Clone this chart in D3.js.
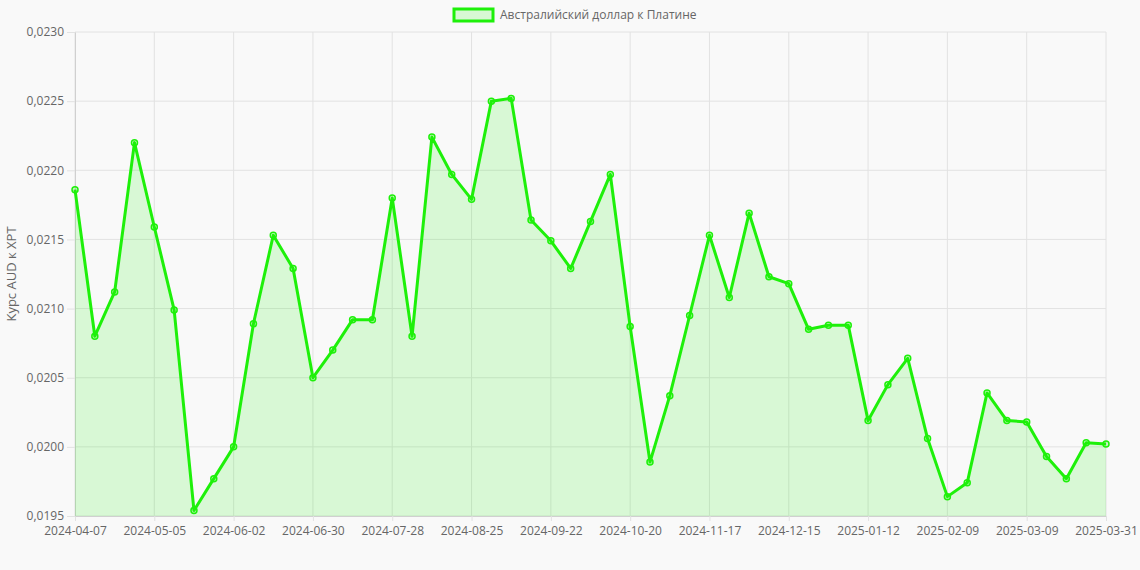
<!DOCTYPE html>
<html>
<head>
<meta charset="utf-8">
<script src="https://cdn.jsdelivr.net/npm/d3@7"></script>
<style>
  body { margin: 0; background: #f9f9f9; font-family: "Open Sans", "DejaVu Sans", sans-serif; }
</style>
</head>
<body>
<script>
var width = 1140, height = 570;
var margin = { left: 75, right: 34, top: 32, bottom: 54 };

var values = [0.02186, 0.02080, 0.02112, 0.02220, 0.02159, 0.02099, 0.01954, 0.01977, 0.02000, 0.02089,
  0.02153, 0.02129, 0.02050, 0.02070, 0.02092, 0.02092, 0.02180, 0.02080, 0.02224, 0.02197,
  0.02179, 0.02250, 0.02252, 0.02164, 0.02149, 0.02129, 0.02163, 0.02197, 0.02087, 0.01989,
  0.02037, 0.02095, 0.02153, 0.02108, 0.02169, 0.02123, 0.02118, 0.02085, 0.02088, 0.02088,
  0.02019, 0.02045, 0.02064, 0.02006, 0.01964, 0.01974, 0.02039, 0.02019, 0.02018, 0.01993,
  0.01977, 0.02003, 0.02002];

// weekly dates starting 2024-04-07, last label 2025-03-31
var dates = [];
var start = new Date(Date.UTC(2024, 3, 7));
for (var i = 0; i < values.length - 1; i++) {
  dates.push(new Date(start.getTime() + i * 7 * 86400000).toISOString().slice(0, 10));
}
dates.push("2025-03-31");

var yTicks = [0.0195, 0.0200, 0.0205, 0.0210, 0.0215, 0.0220, 0.0225, 0.0230];

var svg = d3.select("body").append("svg")
  .attr("width", width).attr("height", height);

var x = d3.scalePoint().domain(dates).range([margin.left, width - margin.right]);
var y = d3.scaleLinear().domain([0.0195, 0.0230]).range([height - margin.bottom, margin.top]);

var fmt = function (d) { return d.toFixed(4).replace(".", ","); };
var tickDates = dates.filter(function (d, i) { return i % 4 === 0 || i === dates.length - 1; });

// grid
svg.append("g").selectAll("line").data(yTicks).enter().append("line")
  .attr("x1", margin.left).attr("x2", width - margin.right)
  .attr("y1", y).attr("y2", y)
  .attr("stroke", "#e2e2e2");
svg.append("g").selectAll("line").data(tickDates).enter().append("line")
  .attr("x1", x).attr("x2", x)
  .attr("y1", margin.top).attr("y2", height - margin.bottom)
  .attr("stroke", "#e2e2e2");

// axes
var xAxis = svg.append("g")
  .attr("transform", "translate(0," + (height - margin.bottom) + ")")
  .call(d3.axisBottom(x).tickValues(tickDates).tickSize(5).tickSizeOuter(0));
var yAxis = svg.append("g")
  .attr("transform", "translate(" + margin.left + ",0)")
  .call(d3.axisLeft(y).tickValues(yTicks).tickFormat(fmt).tickSize(8).tickSizeOuter(0));
[xAxis, yAxis].forEach(function (g) {
  g.select(".domain").attr("stroke", "#d0d0d0");
  g.selectAll(".tick line").attr("stroke", "#e2e2e2");
  g.selectAll("text").attr("fill", "#666").style("font-size", "12px")
    .style("font-family", "'Open Sans', sans-serif");
});
xAxis.selectAll("text").attr("dy", "0.9em");

svg.append("text")
  .attr("transform", "translate(16," + ((margin.top + height - margin.bottom) / 2) + ") rotate(-90)")
  .attr("text-anchor", "middle")
  .attr("fill", "#666").style("font-size", "13px")
  .text("Курс AUD к XPT");

// area + line
var area = d3.area()
  .x(function (d, i) { return x(dates[i]); })
  .y0(y(0.0195)).y1(function (d) { return y(d); });
var line = d3.line()
  .x(function (d, i) { return x(dates[i]); })
  .y(function (d) { return y(d); });

svg.append("path").datum(values).attr("d", area)
  .attr("fill", "rgba(30,240,10,0.15)");
svg.append("path").datum(values).attr("d", line)
  .attr("fill", "none").attr("stroke", "#1ef00a").attr("stroke-width", 3)
  .attr("stroke-linejoin", "round");
svg.append("g").selectAll("circle").data(values).enter().append("circle")
  .attr("cx", function (d, i) { return x(dates[i]); })
  .attr("cy", function (d) { return y(d); })
  .attr("r", 3)
  .attr("fill", "rgba(30,240,10,0.2)")
  .attr("stroke", "#1ef00a").attr("stroke-width", 1.5);

// legend
svg.append("rect")
  .attr("x", 454).attr("y", 9).attr("width", 39).attr("height", 12)
  .attr("fill", "rgba(30,240,10,0.15)").attr("stroke", "#1ef00a").attr("stroke-width", 3);
svg.append("text")
  .attr("x", 500).attr("y", 19)
  .attr("fill", "#666").style("font-size", "12px")
  .text("Австралийский доллар к Платине");
</script>
</body>
</html>
